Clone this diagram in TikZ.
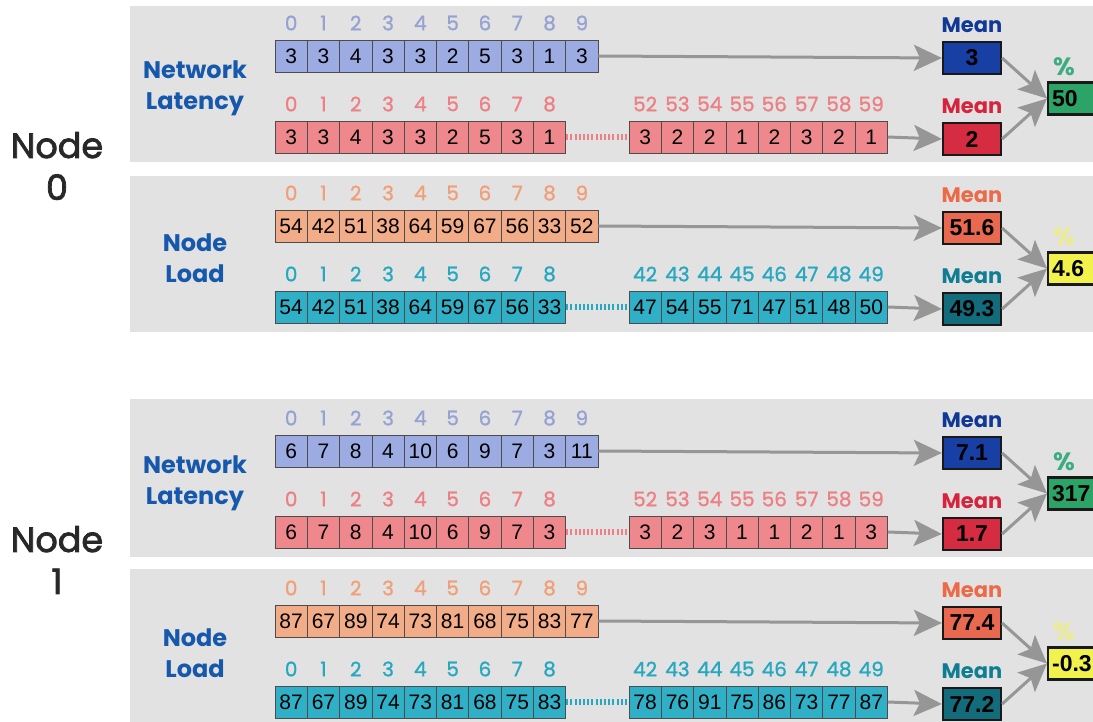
\documentclass[tikz,border=0pt]{standalone}
\usepackage{fontspec}
\setmainfont{Poppins}
\newfontfamily\medfont{Poppins}[FakeBold=1.2]
\newfontfamily\heavyfont{Poppins}[FakeBold=2.2]
\newfontfamily\cellfont{Liberation Sans}
\usetikzlibrary{arrows.meta,positioning}

\definecolor{panelgray}{RGB}{226,226,226}
\definecolor{labelblue}{RGB}{22,88,172}
\definecolor{nodegray}{RGB}{40,40,40}
\definecolor{arrowgray}{RGB}{150,150,150}
\definecolor{cellblue}{RGB}{156,172,226}
\definecolor{idxblue}{RGB}{150,162,210}
\definecolor{cellred}{RGB}{238,136,140}
\definecolor{idxred}{RGB}{236,128,132}
\definecolor{cellorange}{RGB}{243,172,136}
\definecolor{idxorange}{RGB}{240,160,120}
\definecolor{cellteal}{RGB}{48,176,198}
\definecolor{idxteal}{RGB}{40,168,192}
\definecolor{meanblue}{RGB}{24,64,164}
\definecolor{meanred}{RGB}{214,44,66}
\definecolor{meanorange}{RGB}{232,104,80}
\definecolor{meanteal}{RGB}{18,108,124}
\definecolor{lblmeanblue}{RGB}{16,56,150}
\definecolor{lblmeanred}{RGB}{214,36,62}
\definecolor{lblmeanorange}{RGB}{236,106,72}
\definecolor{lblmeanteal}{RGB}{16,126,146}
\definecolor{pctgreen}{RGB}{44,164,104}
\definecolor{lblpctgreen}{RGB}{60,172,130}
\definecolor{pctyellow}{RGB}{242,242,76}
\definecolor{lblpctyellow}{RGB}{236,236,140}

\begin{document}
\begin{tikzpicture}[
    x=1pt,
    y=1pt,
    panel/.style={fill=panelgray},
    kind/.style={align=center,font=\bfseries\fontsize{24}{31}\selectfont,text=labelblue},
    nodename/.style={align=center,font=\heavyfont\fontsize{35}{42}\selectfont,text=nodegray},
    idx/.style={font=\medfont\fontsize{20}{20}\selectfont},
    cell/.style={draw=black!70,line width=0.8pt,minimum width=32.3pt,minimum height=32pt,inner sep=0pt,font=\cellfont\fontsize{21}{21}\selectfont},
    meanlabel/.style={font=\bfseries\fontsize{21}{21}\selectfont},
    pctlabel/.style={font=\bfseries\fontsize{25}{25}\selectfont},
    meanbox/.style={draw=black!90,line width=2.2pt,minimum width=58pt,minimum height=32pt,inner sep=0pt,font=\cellfont\bfseries\fontsize{23}{23}\selectfont},
    pctbox/.style={draw=black!90,line width=2.2pt,minimum height=32pt,text width=52pt,inner xsep=4pt,inner ysep=0pt,align=left,anchor=west,font=\cellfont\bfseries\fontsize{23}{23}\selectfont},
    flow/.style={-{Stealth[length=28pt,width=26pt,inset=6pt]},draw=arrowgray,line width=3pt},
    gap/.style={line width=6pt,dash pattern=on 2pt off 2.2pt}
  ]
    \useasboundingbox (0,0) rectangle (1093,-722);
    \clip (0,0) rectangle (1093,-722);

    \node[nodename] (node0) at (57,-166) {Node\\0};
    \node[nodename] (node1) at (57,-560) {Node\\1};

    % node 0, latency
    \begin{scope}
      \fill[panel] (130,-6) rectangle (1100,-162);
      \node[kind] (lat0) at (195,-88) {Network\\Latency};
      \foreach \v [count=\i from 0] in {3,3,4,3,3,2,5,3,1,3} {
        \node[idx,text=idxblue] at ({291.15+32.3*\i},-23) {\i};
        \node[cell,fill=cellblue] (lat0top\i) at ({291.15+32.3*\i},-56) {\v};
      }
      \foreach \v [count=\i from 0] in {3,3,4,3,3,2,5,3,1} {
        \node[idx,text=idxred] at ({291.15+32.3*\i},-104) {\i};
        \node[cell,fill=cellred] (lat0low\i) at ({291.15+32.3*\i},-137) {\v};
      }
      \foreach \v [count=\i from 52] in {3,2,2,1,2,3,2,1} {
        \node[idx,text=idxred] at ({645.15+32.3*(\i-52)},-104) {\i};
        \node[cell,fill=cellred] (lat0high\i) at ({645.15+32.3*(\i-52)},-137) {\v};
      }
      \draw[gap,draw=idxred] (lat0low8.east) -- (lat0high52.west);
      \node[meanbox,fill=meanblue] (lat0meana) at (972,-58) {3};
      \node[meanlabel,text=lblmeanblue,above=5pt of lat0meana] {Mean};
      \node[meanbox,fill=meanred] (lat0meanb) at (972,-139) {2};
      \node[meanlabel,text=lblmeanred,above=5pt of lat0meanb] {Mean};
      \node[pctbox,fill=pctgreen] (lat0pct) at (1047,-98.5) {50};
      \node[pctlabel,text=lblpctgreen] at (1064,-67) {\%};
      \draw[flow] (lat0top9.east) -- (lat0meana.west);
      \draw[flow] (lat0high59.east) -- (lat0meanb.west);
      \draw[flow] (lat0meana.east) -- (lat0pct.west);
      \draw[flow] (lat0meanb.east) -- (lat0pct.west);
    \end{scope}

    % node 0, load
    \begin{scope}[shift={(0,-170)}]
      \fill[panel] (130,-6) rectangle (1100,-162);
      \node[kind] (load0) at (195,-88) {Node\\Load};
      \foreach \v [count=\i from 0] in {54,42,51,38,64,59,67,56,33,52} {
        \node[idx,text=idxorange] at ({291.15+32.3*\i},-23) {\i};
        \node[cell,fill=cellorange] (load0top\i) at ({291.15+32.3*\i},-56) {\v};
      }
      \foreach \v [count=\i from 0] in {54,42,51,38,64,59,67,56,33} {
        \node[idx,text=idxteal] at ({291.15+32.3*\i},-104) {\i};
        \node[cell,fill=cellteal] (load0low\i) at ({291.15+32.3*\i},-137) {\v};
      }
      \foreach \v [count=\i from 42] in {47,54,55,71,47,51,48,50} {
        \node[idx,text=idxteal] at ({645.15+32.3*(\i-42)},-104) {\i};
        \node[cell,fill=cellteal] (load0high\i) at ({645.15+32.3*(\i-42)},-137) {\v};
      }
      \draw[gap,draw=idxteal] (load0low8.east) -- (load0high42.west);
      \node[meanbox,fill=meanorange] (load0meana) at (972,-58) {51.6};
      \node[meanlabel,text=lblmeanorange,above=5pt of load0meana] {Mean};
      \node[meanbox,fill=meanteal] (load0meanb) at (972,-139) {49.3};
      \node[meanlabel,text=lblmeanteal,above=5pt of load0meanb] {Mean};
      \node[pctbox,fill=pctyellow] (load0pct) at (1047,-98.5) {4.6};
      \node[pctlabel,text=lblpctyellow] at (1064,-67) {\%};
      \draw[flow] (load0top9.east) -- (load0meana.west);
      \draw[flow] (load0high49.east) -- (load0meanb.west);
      \draw[flow] (load0meana.east) -- (load0pct.west);
      \draw[flow] (load0meanb.east) -- (load0pct.west);
    \end{scope}

    % node 1, latency
    \begin{scope}[shift={(0,-395)}]
      \fill[panel] (130,-4) rectangle (1100,-162);
      \node[kind] (lat1) at (195,-88) {Network\\Latency};
      \foreach \v [count=\i from 0] in {6,7,8,4,10,6,9,7,3,11} {
        \node[idx,text=idxblue] at ({291.15+32.3*\i},-23) {\i};
        \node[cell,fill=cellblue] (lat1top\i) at ({291.15+32.3*\i},-56) {\v};
      }
      \foreach \v [count=\i from 0] in {6,7,8,4,10,6,9,7,3} {
        \node[idx,text=idxred] at ({291.15+32.3*\i},-104) {\i};
        \node[cell,fill=cellred] (lat1low\i) at ({291.15+32.3*\i},-137) {\v};
      }
      \foreach \v [count=\i from 52] in {3,2,3,1,1,2,1,3} {
        \node[idx,text=idxred] at ({645.15+32.3*(\i-52)},-104) {\i};
        \node[cell,fill=cellred] (lat1high\i) at ({645.15+32.3*(\i-52)},-137) {\v};
      }
      \draw[gap,draw=idxred] (lat1low8.east) -- (lat1high52.west);
      \node[meanbox,fill=meanblue] (lat1meana) at (972,-58) {7.1};
      \node[meanlabel,text=lblmeanblue,above=5pt of lat1meana] {Mean};
      \node[meanbox,fill=meanred] (lat1meanb) at (972,-139) {1.7};
      \node[meanlabel,text=lblmeanred,above=5pt of lat1meanb] {Mean};
      \node[pctbox,fill=pctgreen] (lat1pct) at (1047,-98.5) {317};
      \node[pctlabel,text=lblpctgreen] at (1064,-67) {\%};
      \draw[flow] (lat1top9.east) -- (lat1meana.west);
      \draw[flow] (lat1high59.east) -- (lat1meanb.west);
      \draw[flow] (lat1meana.east) -- (lat1pct.west);
      \draw[flow] (lat1meanb.east) -- (lat1pct.west);
    \end{scope}

    % node 1, load
    \begin{scope}[shift={(0,-565)}]
      \fill[panel] (130,-4) rectangle (1100,-170);
      \node[kind] (load1) at (195,-88) {Node\\Load};
      \foreach \v [count=\i from 0] in {87,67,89,74,73,81,68,75,83,77} {
        \node[idx,text=idxorange] at ({291.15+32.3*\i},-23) {\i};
        \node[cell,fill=cellorange] (load1top\i) at ({291.15+32.3*\i},-56) {\v};
      }
      \foreach \v [count=\i from 0] in {87,67,89,74,73,81,68,75,83} {
        \node[idx,text=idxteal] at ({291.15+32.3*\i},-104) {\i};
        \node[cell,fill=cellteal] (load1low\i) at ({291.15+32.3*\i},-137) {\v};
      }
      \foreach \v [count=\i from 42] in {78,76,91,75,86,73,77,87} {
        \node[idx,text=idxteal] at ({645.15+32.3*(\i-42)},-104) {\i};
        \node[cell,fill=cellteal] (load1high\i) at ({645.15+32.3*(\i-42)},-137) {\v};
      }
      \draw[gap,draw=idxteal] (load1low8.east) -- (load1high42.west);
      \node[meanbox,fill=meanorange] (load1meana) at (972,-58) {77.4};
      \node[meanlabel,text=lblmeanorange,above=5pt of load1meana] {Mean};
      \node[meanbox,fill=meanteal] (load1meanb) at (972,-139) {77.2};
      \node[meanlabel,text=lblmeanteal,above=5pt of load1meanb] {Mean};
      \node[pctbox,fill=pctyellow] (load1pct) at (1047,-98.5) {-0.3};
      \node[pctlabel,text=lblpctyellow] at (1064,-67) {\%};
      \draw[flow] (load1top9.east) -- (load1meana.west);
      \draw[flow] (load1high49.east) -- (load1meanb.west);
      \draw[flow] (load1meana.east) -- (load1pct.west);
      \draw[flow] (load1meanb.east) -- (load1pct.west);
    \end{scope}
  \end{tikzpicture}
\end{document}
